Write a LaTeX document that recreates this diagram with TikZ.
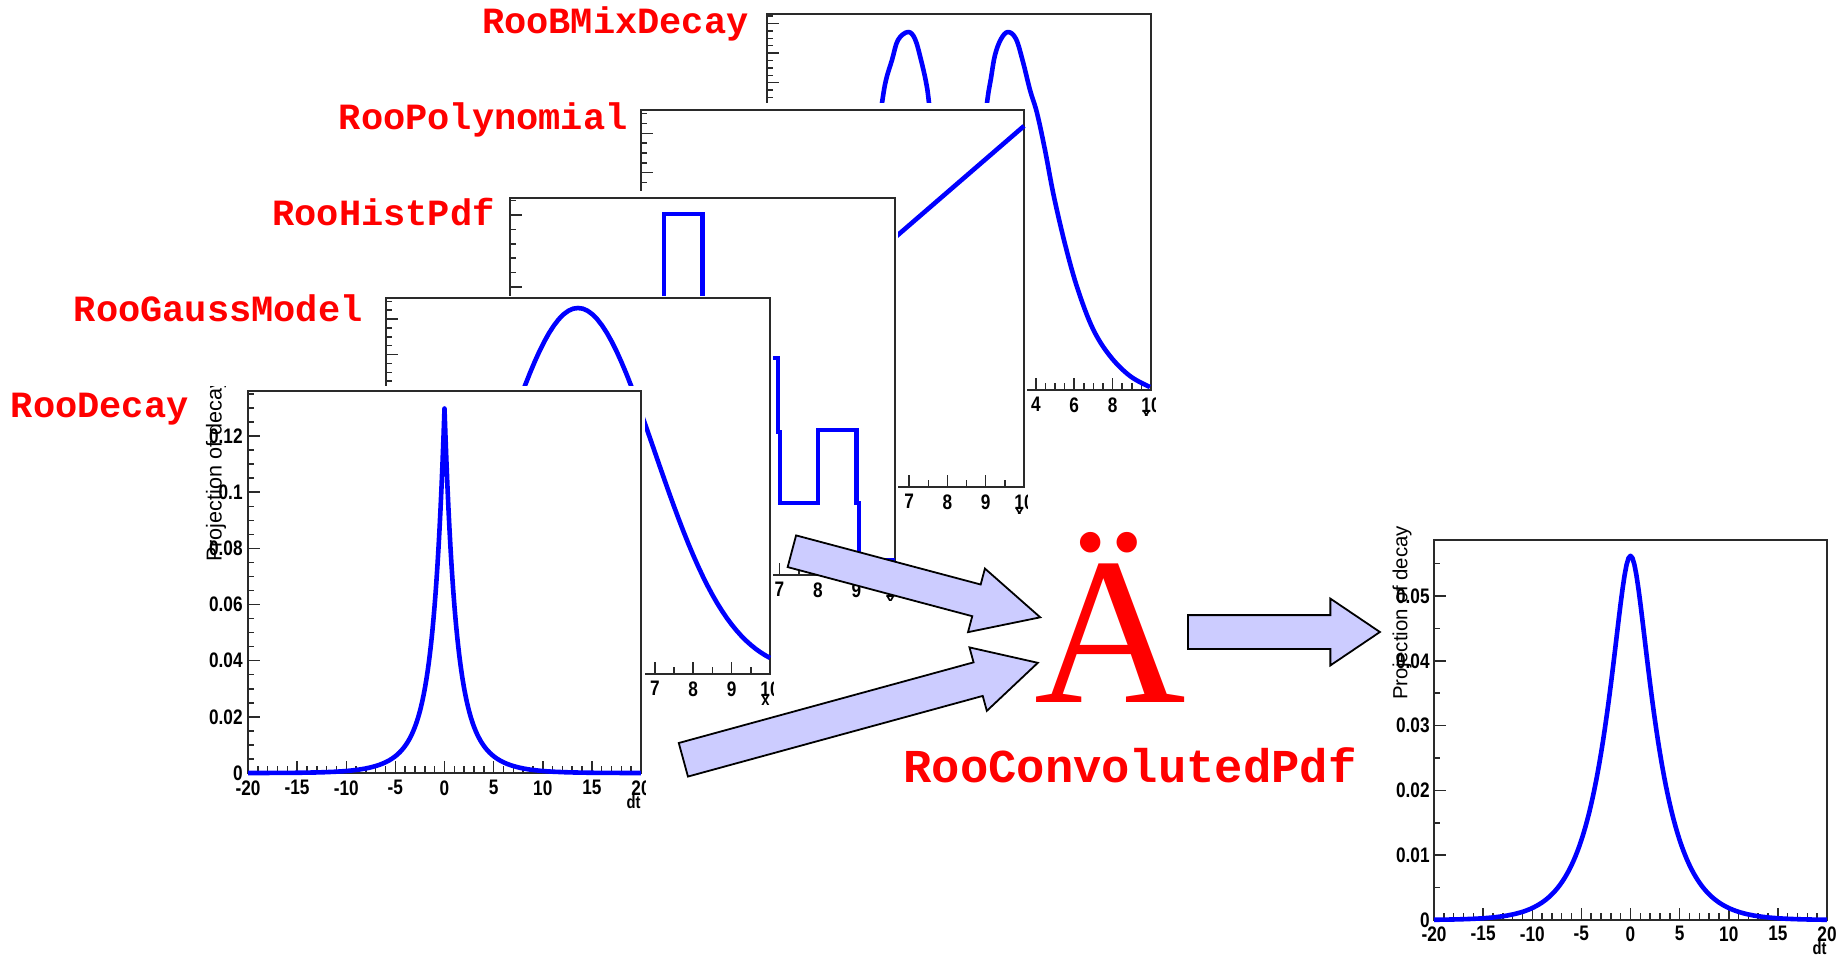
\documentclass[tikz,border=0pt]{standalone}
\usepackage{fontspec}
\setmainfont{Liberation Serif}
\newfontfamily\namefont{Liberation Mono}
\newfontfamily\axisfont[FakeStretch=0.82]{Liberation Sans}
\newfontfamily\titlefont{Liberation Sans}
\usetikzlibrary{shapes.arrows}
\definecolor{PlotBlue}{HTML}{0000FF}
\definecolor{NameRed}{HTML}{FF0000}
\definecolor{ArrowLilac}{HTML}{CCCCFF}
\definecolor{FrameGrey}{HTML}{2A2A2A}
\tikzset{
  pad/.style={fill=white},
  plotframe/.style={draw=FrameGrey, line width=0.85pt},
  pdfcurve/.style={draw=PlotBlue, line width=2.3pt, line join=round},
  minortick/.style={draw=FrameGrey, line width=0.75pt},
  majortick/.style={draw=FrameGrey, line width=0.75pt},
  ticklabel/.style={inner sep=0pt, font=\axisfont\bfseries\fontsize{10.5}{11}\selectfont},
  axislabel/.style={inner sep=0pt, font=\axisfont\bfseries\fontsize{9}{10}\selectfont},
  axistitle/.style={inner sep=0pt, rotate=90, font=\titlefont\fontsize{10.2}{11}\selectfont},
  pdfname/.style={inner sep=0pt, text=NameRed, font=\namefont\bfseries\fontsize{18.5}{20}\selectfont},
  fatarrow/.style={single arrow, draw=black, line width=0.9pt, fill=ArrowLilac, inner sep=0pt, anchor=tail},
}
\begin{document}
\begin{tikzpicture}[x=0.5pt,y=-0.5pt]
  \useasboundingbox (0,0) rectangle (1847,955);
  % RooBMixDecay
  \begin{scope}
    \clip (759,6) rectangle (1155,415);
    \fill[pad] (759,6) rectangle (1155,415);
    \draw[plotframe] (767,14) rectangle (1151,390);
    \foreach \k in {0,...,49} \draw[minortick] (767,{16.1+7.4*\k}) -- ++(6,0);
    \foreach \k in {0,...,12} \draw[majortick] (767,{23.5+29.6*\k}) -- ++(12,0);
    \foreach \k in {1,...,39} \draw[minortick] ({767+9.6*\k},390) -- ++(0,-7);
    \foreach \k in {1,...,9} \draw[majortick] ({767+38.4*\k},390) -- ++(0,-12);
    \foreach \v in {-10,-8,...,10} \node[ticklabel,anchor=north] at ({959+19.2*\v},397) {\v};
    \node[axislabel,anchor=north east] (bmixx) at (1151,411) {x};
    \draw[pdfcurve] plot[smooth,tension=0.6] coordinates {(866,250) (874,160) (882,103) (886,80) (892,60) (898,40) (908,32) (915,39) (921,60) (926,82) (929,103) (936,170) (944,250)};
    \draw[pdfcurve] plot[smooth,tension=0.6] coordinates {(974,250) (981,160) (987,103) (991,78) (995,55) (1001,39) (1008,32) (1016,39) (1023,62) (1030,90) (1037,113) (1045,150) (1054,197) (1066,248) (1078,290) (1093,329) (1110,356) (1130,376) (1150,387)};
  \end{scope}
  % RooPolynomial
  \begin{scope}
    \clip (633,103) rectangle (1027,513);
    \fill[pad] (633,103) rectangle (1027,513);
    \draw[plotframe] (641,110) rectangle (1024,487);
    \foreach \k in {1,...,38} \draw[minortick] (641,{487-9.825*\k}) -- ++(6,0);
    \foreach \k in {1,...,9} \draw[majortick] (641,{487-39.3*\k}) -- ++(12,0);
    \foreach \k in {1,...,19} \draw[minortick] ({641+19.15*\k},487) -- ++(0,-7);
    \foreach \k in {1,...,9} \draw[majortick] ({641+38.3*\k},487) -- ++(0,-12);
    \foreach \v in {0,...,10} \node[ticklabel,anchor=north] at ({641+38.3*\v},494) {\v};
    \node[axislabel,anchor=north east] (polyx) at (1024,509) {x};
    \draw[pdfcurve] (641,457) -- (1024,126);
  \end{scope}
  % RooHistPdf
  \begin{scope}
    \clip (502,191) rectangle (898,600);
    \fill[pad] (502,191) rectangle (898,600);
    \draw[plotframe] (510,198) rectangle (895,575);
    \foreach \k in {1,...,26} \draw[minortick] (510,{575-14.4*\k}) -- ++(6,0);
    \foreach \k in {1,...,5} \draw[majortick] (510,{575-72*\k}) -- ++(12,0);
    \foreach \k in {1,...,19} \draw[minortick] ({510+19.25*\k},575) -- ++(0,-7);
    \foreach \k in {1,...,9} \draw[majortick] ({510+38.5*\k},575) -- ++(0,-12);
    \foreach \v in {0,...,10} \node[ticklabel,anchor=north] at ({510+38.5*\v},582) {\v};
    \node[axislabel,anchor=north east] (histx) at (895,597) {x};
    \draw[pdfcurve,line join=miter] (510,575) -- (510,560) -- (548.5,560) -- (548.5,520) -- (587,520) -- (587,470)
      -- (625.5,470) -- (625.5,400) -- (664,400) -- (664,214) -- (702.5,214) -- (702.5,330) -- (741,330)
      -- (741,358) -- (778,358) -- (778,432) -- (780,432) -- (780,503) -- (818,503) -- (818,430)
      -- (856.5,430) -- (856.5,503) -- (859,503) -- (859,560) -- (895,560);
  \end{scope}
  % RooGaussModel
  \begin{scope}
    \clip (378,296) rectangle (773,708);
    \fill[pad] (378,296) rectangle (773,708);
    \draw[plotframe] (386,298) rectangle (770,674);
    \foreach \k in {1,...,42} \draw[minortick] (386,{674-8.875*\k}) -- ++(6,0);
    \foreach \k in {1,...,10} \draw[majortick] (386,{674-35.5*\k}) -- ++(12,0);
    \foreach \k in {1,...,19} \draw[minortick] ({386+19.2*\k},674) -- ++(0,-7);
    \foreach \k in {1,...,9} \draw[majortick] ({386+38.4*\k},674) -- ++(0,-12);
    \foreach \v in {0,...,10} \node[ticklabel,anchor=north] at ({386+38.4*\v},681) {\v};
    \node[axislabel,anchor=north east] (gaussx) at (770,696) {x};
    \draw[pdfcurve] plot[domain=0:10,samples=81] ({386+38.4*\x},{674-366*exp(-(\x-5)*(\x-5)/8)});
  \end{scope}
  % RooDecay
  \begin{scope}
    \clip (200,386) rectangle (645,812);
    \fill[pad] (200,386) rectangle (645,812);
    \draw[plotframe] (248,391) rectangle (641,773);
    \foreach \k in {1,...,27} \draw[minortick] (248,{773-14.04*\k}) -- ++(6,0);
    \foreach \k in {1,...,6} \draw[majortick] (248,{773-56.16*\k}) -- ++(12,0);
    \foreach \k in {1,...,39} \draw[minortick] ({248+9.825*\k},773) -- ++(0,-7);
    \foreach \k in {1,...,7} \draw[majortick] ({248+49.125*\k},773) -- ++(0,-12);
    \foreach \v in {0,0.02,0.04,0.06,0.08,0.1,0.12} \node[ticklabel,anchor=east] at (243,{773-2808*\v}) {\v};
    \foreach \v in {-20,-15,...,20} \node[ticklabel,anchor=north] at ({444.5+9.825*\v},780) {\v};
    \node[axislabel,anchor=north east] (decayx) at (641,795) {dt};
    \node[axistitle,anchor=west,font=\titlefont\fontsize{10.8}{12}\selectfont] (decayy) at (216,562) {Projection of decay};
    \draw[pdfcurve] plot[domain=-20:20,samples=401] ({444.5+9.825*\x},{773-2808*(0.09*exp(-abs(\x))+0.04*exp(-abs(\x)/2.5))});
  \end{scope}
  % names of the inputs
  \node[pdfname,anchor=base east] (bmixname) at (749,33) {RooBMixDecay};
  \node[pdfname,anchor=base east] (polyname) at (628,129) {RooPolynomial};
  \node[pdfname,anchor=base east] (histname) at (495,225) {RooHistPdf};
  \node[pdfname,anchor=base east] (gaussname) at (363,321) {RooGaussModel};
  \node[pdfname,anchor=base east] (decayname) at (189,417) {RooDecay};
  % convolution
  \node[inner sep=0pt,text=NameRed,font=\fontsize{105}{105}\selectfont,anchor=base] (convsign) at (1110,702) {Ä};
  \node[pdfname,anchor=base west,font=\namefont\bfseries\fontsize{23.6}{25}\selectfont] (convname) at (903,782) {RooConvolutedPdf};
  \node[fatarrow,rotate=-14.9,minimum height=128.5pt,inner ysep=7.75pt,single arrow head extend=8.25pt,single arrow tip angle=53] (histarrow) at (791,551) {};
  \node[fatarrow,rotate=15.3,minimum height=183.75pt,inner ysep=8.25pt,single arrow head extend=7.75pt,single arrow tip angle=56] (decayarrow) at (682.5,760) {};
  \node[fatarrow,minimum height=96pt,inner ysep=8pt,single arrow head extend=8.25pt,single arrow tip angle=68] (resultarrow) at (1187,632) {};
  % result
  \draw[plotframe] (1434,540) rectangle (1827,920);
  \foreach \k in {1,...,11} \draw[minortick] (1434,{920-32.4*\k}) -- ++(6,0);
  \foreach \k in {1,...,5} \draw[majortick] (1434,{920-64.8*\k}) -- ++(12,0);
  \foreach \k in {1,...,39} \draw[minortick] ({1434+9.825*\k},920) -- ++(0,-7);
  \foreach \k in {1,...,7} \draw[majortick] ({1434+49.125*\k},920) -- ++(0,-12);
  \foreach \v in {0,0.01,0.02,0.03,0.04,0.05} \node[ticklabel,anchor=east] at (1430,{920-6480*\v}) {\v};
  \foreach \v in {-20,-15,...,20} \node[ticklabel,anchor=north] at ({1630.5+9.825*\v},926) {\v};
  \node[axislabel,anchor=north east] (resultx) at (1827,941) {dt};
  \node[axistitle,anchor=west] (resulty) at (1402,700) {Projection of decay};
  \draw[pdfcurve] plot[domain=-20:20,samples=201] ({1630.5+9.825*\x},{920-364.2*exp(-(sqrt(\x*\x+1.44)-1.2)/2.6)});
\end{tikzpicture}
\end{document}
